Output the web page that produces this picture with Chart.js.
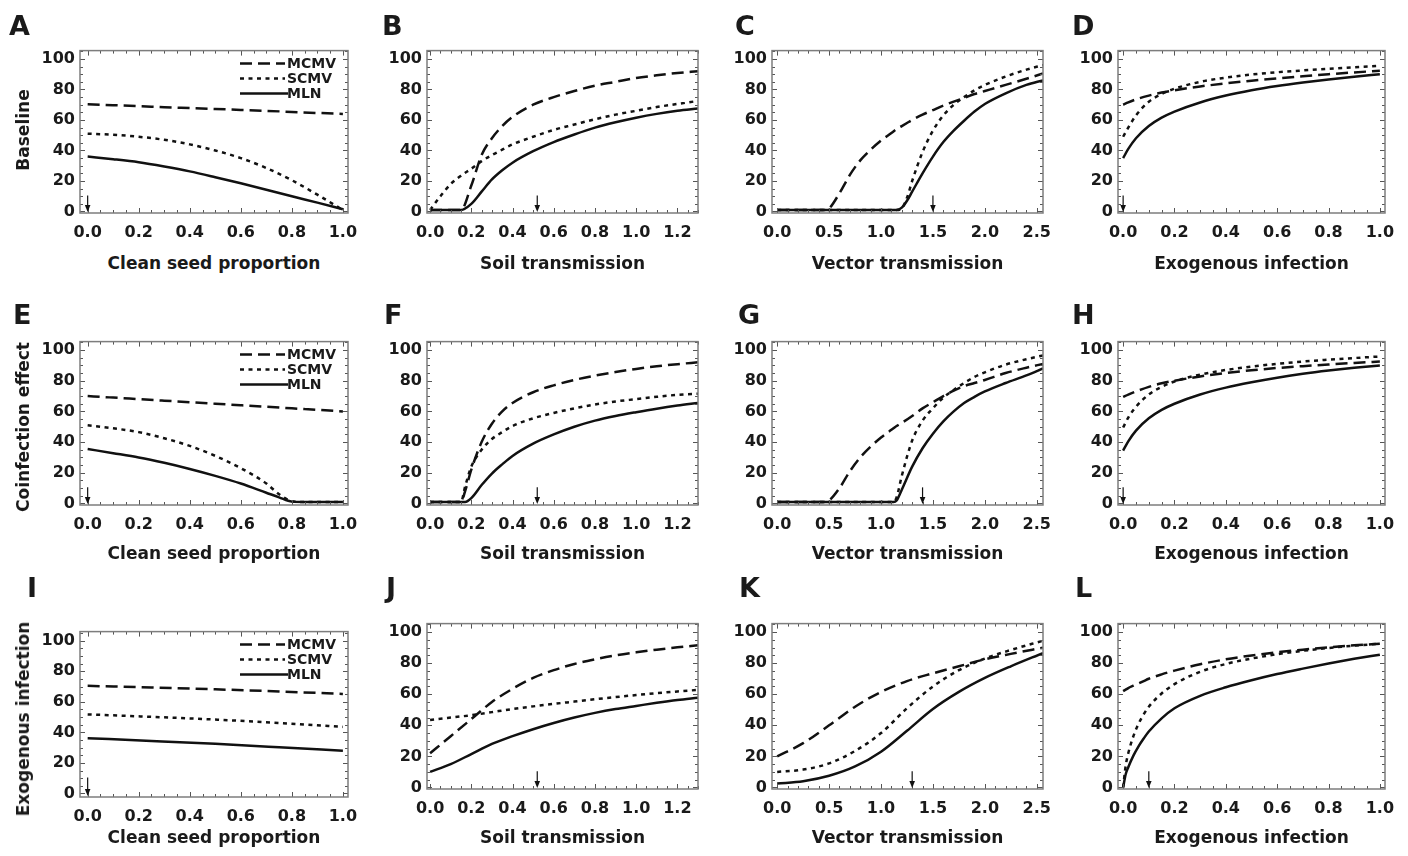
<!DOCTYPE html>
<html>
<head>
<meta charset="utf-8">
<script src="https://cdn.jsdelivr.net/npm/chart.js@4.4.1/dist/chart.umd.min.js"></script>
<style>
  body { margin: 0; background: #fff; }
  #page { position: relative; width: 1408px; height: 856px; overflow: hidden; font-family: "DejaVu Sans", sans-serif; font-weight: bold; color: #1a1a1a; }
  canvas { position: absolute; }
  .letter { position: absolute; font-size: 27px; line-height: 1; }
  .xtitle { position: absolute; font-size: 17px; text-align: center; white-space: nowrap; transform: translate(-50%, -50%); }
  .ytitle { position: absolute; font-size: 17px; white-space: nowrap; transform: translate(-50%, -50%) rotate(-90deg); }
</style>
</head>
<body>
<div id="page"></div>
<script>
// tick labels
const ticksUnit = [0, 0.2, 0.4, 0.6, 0.8, 1.0];
const ticksSoil = [0, 0.2, 0.4, 0.6, 0.8, 1.0, 1.2];
const ticksVector = [0, 0.5, 1.0, 1.5, 2.0, 2.5];
const ticksY = [0, 20, 40, 60, 80, 100];

const seriesNames = ['MCMV', 'SCMV', 'MLN'];

// A - baseline, clean seed
const xA = [0, 0.1, 0.2, 0.3, 0.4, 0.5, 0.6, 0.7, 0.8, 0.9, 1.0];
const mcmvA = [70.3, 69.7, 69.1, 68.4, 67.8, 67.2, 66.6, 66, 65.3, 64.6, 64];
const scmvA = [51, 50.3, 49, 47, 44, 40, 35, 28.5, 20.5, 11, 1];
const mlnA = [36, 34.3, 32.3, 29.5, 26.3, 22.5, 18.5, 14.3, 10, 5.8, 1.5];

// B - baseline, soil
const xB = [0, 0.05, 0.1, 0.15, 0.2, 0.25, 0.3, 0.35, 0.4, 0.5, 0.6, 0.7, 0.8, 0.9, 1.0, 1.1, 1.2, 1.3];
const mcmvB = [1, 1, 1, 1, 17, 37, 48, 56, 62, 70, 75, 79, 82.5, 85, 87.5, 89.3, 90.8, 92];
const scmvB = [1, 10, 18, 23.5, 28, 33, 37, 40.5, 44, 49, 53.5, 57, 60.5, 63.5, 66, 68.5, 70.5, 72.5];
const mlnB = [1, 1, 1, 1, 5, 13, 21, 27, 32, 39.5, 45.5, 50.5, 55, 58.5, 61.5, 64, 66, 67.5];

// C - baseline, vector
const xC = [0, 0.45, 0.5, 0.6, 0.7, 0.8, 0.9, 1.0, 1.1, 1.15, 1.2, 1.25, 1.3, 1.4, 1.5, 1.6, 1.7, 1.8, 1.9, 2.0, 2.2, 2.4, 2.56];
const mcmvC = [1, 1, 2, 12, 24, 33.5, 40.5, 46.5, 51.5, 54, 56, 58, 60, 63.5, 66.5, 69.5, 72, 74.5, 77, 79, 83, 87, 90.5];
const scmvC = [1, 1, 1, 1, 1, 1, 1, 1, 1, 1, 2, 9, 20, 39, 53, 63, 70, 75, 79.5, 83, 88.5, 93, 96];
const mlnC = [1, 1, 1, 1, 1, 1, 1, 1, 1, 1, 2.5, 7, 13, 25, 36, 45.5, 53, 59.5, 65.5, 70.5, 77.5, 83, 86];

// D - baseline, exogenous
const xD = [0, 0.02, 0.05, 0.1, 0.15, 0.2, 0.3, 0.4, 0.5, 0.6, 0.7, 0.8, 0.9, 1.0];
const mcmvD = [70, 71.5, 73.5, 76, 78, 79.5, 82, 84, 85.8, 87.3, 88.7, 90, 91.2, 92.3];
const scmvD = [49, 55, 63, 72, 77, 80.5, 85, 87.8, 89.8, 91.3, 92.5, 93.6, 94.6, 95.5];
const mlnD = [35, 41, 48, 56, 61.5, 65.5, 71.5, 76, 79.5, 82.3, 84.6, 86.6, 88.4, 90];

// E - coinfection, clean seed
const xE = [0, 0.1, 0.2, 0.3, 0.4, 0.5, 0.6, 0.7, 0.75, 0.8, 0.85, 0.9, 1.0];
const mcmvE = [70, 69, 68, 67, 66, 65, 64, 63, 62.5, 62, 61.5, 61, 60];
const scmvE = [51, 49, 46.5, 42.5, 37.5, 31, 23, 13, 6, 1.5, 1, 1, 1];
const mlnE = [35.5, 32.8, 30, 26.5, 22.5, 18, 13, 7, 4, 1.2, 1, 1, 1];

// F - coinfection, soil
const xF = [0, 0.1, 0.15, 0.17, 0.2, 0.25, 0.3, 0.35, 0.4, 0.5, 0.6, 0.7, 0.8, 0.9, 1.0, 1.1, 1.2, 1.3];
const mcmvF = [1, 1, 1, 8, 22, 40, 52, 60, 65.5, 72.5, 77, 80.5, 83.3, 85.7, 87.7, 89.4, 90.8, 92];
const scmvF = [1, 1, 1, 11, 24, 35, 42, 46.5, 50.5, 55.5, 59, 62, 64.5, 66.5, 68, 69.5, 70.8, 71.5];
const mlnF = [1, 1, 1, 1, 3.5, 12, 19.5, 25.5, 31, 39, 45, 50, 54, 57, 59.5, 61.8, 63.8, 65.5];

// G - coinfection, vector
const xG = [0, 0.45, 0.5, 0.6, 0.7, 0.8, 0.9, 1.0, 1.1, 1.12, 1.15, 1.2, 1.3, 1.4, 1.5, 1.6, 1.7, 1.8, 1.9, 2.0, 2.2, 2.4, 2.56];
const mcmvG = [1, 1, 2, 10, 21, 30, 37, 43, 48, 49, 50.5, 52.5, 57, 62, 66, 70, 73.5, 76.5, 78.5, 80.5, 85, 88.5, 91];
const scmvG = [1, 1, 1, 1, 1, 1, 1, 1, 1, 1, 4, 18, 41, 54, 62, 69, 74, 78.5, 82.5, 85.5, 90.5, 94, 96.5];
const mlnG = [1, 1, 1, 1, 1, 1, 1, 1, 1, 1, 2, 9, 24, 36, 45.5, 53.5, 60, 65.5, 69.5, 73, 78.5, 83.5, 88];

// H - coinfection, exogenous
const xH = [0, 0.02, 0.05, 0.1, 0.15, 0.2, 0.3, 0.4, 0.5, 0.6, 0.7, 0.8, 0.9, 1.0];
const mcmvH = [69.5, 71, 73, 76, 78.3, 80, 82.8, 85, 86.8, 88.3, 89.5, 90.6, 91.6, 92.5];
const scmvH = [49.5, 56, 63, 71, 76, 79.5, 84, 87, 89.2, 91, 92.5, 93.7, 94.8, 95.8];
const mlnH = [34.5, 40.5, 47.5, 55.5, 61, 65, 71, 75.5, 79, 82, 84.5, 86.6, 88.4, 90];

// I - exogenous infection, clean seed
const xI = [0, 0.25, 0.5, 0.75, 1.0];
const mcmvI = [70.5, 69.4, 68.2, 66.8, 65.2];
const scmvI = [51.8, 50.2, 48.4, 46.2, 43.6];
const mlnI = [36.2, 34.4, 32.5, 30.3, 28];

// J - exogenous infection, soil
const xJ = [0, 0.1, 0.2, 0.3, 0.4, 0.5, 0.6, 0.7, 0.8, 0.9, 1.0, 1.1, 1.2, 1.3];
const mcmvJ = [22, 33, 44, 55, 63.5, 70.5, 75.5, 79.5, 82.5, 85, 87, 88.7, 90.2, 91.5];
const scmvJ = [43.5, 45, 46.5, 48.5, 50.5, 52.2, 53.8, 55.3, 56.8, 58.2, 59.5, 60.7, 61.8, 62.8];
const mlnJ = [10, 15, 21.5, 28, 33, 37.5, 41.5, 45, 48, 50.5, 52.5, 54.5, 56.3, 57.8];

// K - exogenous infection, vector
const xK = [0, 0.25, 0.5, 0.75, 1.0, 1.25, 1.5, 1.75, 2.0, 2.25, 2.56];
const mcmvK = [20, 28.5, 40, 52, 61.5, 68.5, 73.5, 78, 82.5, 86, 90];
const scmvK = [10, 11.5, 15.5, 23.5, 35, 51, 65, 75.5, 83, 88.5, 94.5];
const mlnK = [2.5, 4, 7.5, 13.5, 23, 36.5, 50.5, 61.5, 70.5, 78, 86.5];

// L - exogenous infection, exogenous
const xL = [0, 0.01, 0.02, 0.04, 0.06, 0.08, 0.1, 0.15, 0.2, 0.3, 0.4, 0.5, 0.6, 0.7, 0.8, 0.9, 1.0];
const mcmvL = [62, 63, 64, 65.5, 67, 68.5, 70, 72.8, 75.2, 79.3, 82.5, 85, 87, 88.7, 90.2, 91.5, 92.5];
const scmvL = [0, 14, 22, 33, 41, 47, 52, 60.5, 66.5, 74.5, 79.5, 83, 85.8, 88, 89.8, 91.3, 92.5];
const mlnL = [0, 8.5, 13, 20.5, 26.5, 31.5, 36, 44.5, 51, 59, 64.5, 69, 73, 76.5, 79.8, 82.8, 85.5];

// arrow positions (default parameter value) per panel
const arrowsX = { A: 0, B: 0.52, C: 1.5, D: 0, E: 0, F: 0.52, G: 1.4, H: 0, I: 0, J: 0.52, K: 1.3, L: 0.1 };

const rowTitles = ['Baseline', 'Coinfection effect', 'Exogenous infection'];
const xTitles = ['Clean seed proportion', 'Soil transmission', 'Vector transmission', 'Exogenous infection'];

// layout
const cols = [{ l: 80, r: 348 }, { l: 427, r: 698 }, { l: 772, r: 1043 }, { l: 1118, r: 1385 }];
const rows = [{ t: 48, b: 213 }, { t: 339, b: 505 }, { t: 621, b: 789 }];
const letterPos = [[9, 382, 735, 1072], [13, 384, 738, 1072], [27, 386, 739, 1075]];
const letterBase = [33, 322, 595];
const xTitleY = [263, 553, 837];
const rowTitleY = [130, 427, 719];

const colAxes = [
    { ticks: ticksUnit, min: -0.03, max: 1.02, minor: 0.05 },
    { ticks: ticksSoil, min: -0.015, max: 1.3, minor: 0.05 },
    { ticks: ticksVector, min: -0.05, max: 2.56, minor: 0.1 },
    { ticks: ticksUnit, min: -0.02, max: 1.02, minor: 0.05 }
];

const panels = [
    ['A', xA, mcmvA, scmvA, mlnA], ['B', xB, mcmvB, scmvB, mlnB], ['C', xC, mcmvC, scmvC, mlnC], ['D', xD, mcmvD, scmvD, mlnD],
    ['E', xE, mcmvE, scmvE, mlnE], ['F', xF, mcmvF, scmvF, mlnF], ['G', xG, mcmvG, scmvG, mlnG], ['H', xH, mcmvH, scmvH, mlnH],
    ['I', xI, mcmvI, scmvI, mlnI], ['J', xJ, mcmvJ, scmvJ, mlnJ], ['K', xK, mcmvK, scmvK, mlnK], ['L', xL, mcmvL, scmvL, mlnL]
];

const dashes = [[12, 6], [4, 4.5], []];
const FONT = '"DejaVu Sans", sans-serif';
const PAD_L = 60, PAD_T = 12, PAD_R = 24, PAD_B = 40;

// frame, frame ticks, arrow and in-plot legend
const framePlugin = {
    id: 'frame',
    afterDatasetsDraw(chart, args, opts) {
        const { ctx, chartArea: a, scales } = chart;
        const xs = scales.x, ys = scales.y;
        ctx.save();

        // tick marks on all four sides
        ctx.strokeStyle = '#555';
        ctx.lineWidth = 1;
        const tickX = (v, len) => {
            const px = Math.round(xs.getPixelForValue(v)) + 0.5;
            ctx.beginPath();
            ctx.moveTo(px, a.bottom); ctx.lineTo(px, a.bottom - len);
            ctx.moveTo(px, a.top); ctx.lineTo(px, a.top + len);
            ctx.stroke();
        };
        const tickY = (v, len) => {
            const py = Math.round(ys.getPixelForValue(v)) + 0.5;
            ctx.beginPath();
            ctx.moveTo(a.left, py); ctx.lineTo(a.left + len, py);
            ctx.moveTo(a.right, py); ctx.lineTo(a.right - len, py);
            ctx.stroke();
        };
        for (let i = 0; i * opts.xMinor <= xs.max + 1e-9; i++) {
            const v = +(i * opts.xMinor).toFixed(4);
            const major = opts.xTicks.some(t => Math.abs(t - v) < 1e-6);
            tickX(v, major ? 5 : 3);
        }
        for (let v = 0; v <= ys.max; v += 5) tickY(v, v % 20 === 0 ? 5 : 3);

        // frame
        ctx.strokeStyle = '#7d7d7d';
        ctx.lineWidth = 1.5;
        ctx.strokeRect(a.left, a.top, a.right - a.left, a.bottom - a.top);

        // arrow marking the default value
        const ax = xs.getPixelForValue(opts.arrow);
        const ay0 = ys.getPixelForValue(10.5);
        const ay1 = a.bottom - 1;
        ctx.strokeStyle = '#111';
        ctx.fillStyle = '#111';
        ctx.lineWidth = 1.2;
        ctx.beginPath();
        ctx.moveTo(ax, ay0); ctx.lineTo(ax, ay1 - 5);
        ctx.stroke();
        ctx.beginPath();
        ctx.moveTo(ax - 2.8, ay1 - 7); ctx.lineTo(ax + 2.8, ay1 - 7); ctx.lineTo(ax, ay1);
        ctx.closePath();
        ctx.fill();

        // legend inside the plot
        if (opts.legend) {
            ctx.font = 'bold 14px ' + FONT;
            ctx.textBaseline = 'middle';
            ctx.fillStyle = '#1a1a1a';
            chart.data.datasets.forEach((ds, i) => {
                const y = a.top + 13 + i * 15;
                ctx.strokeStyle = '#111';
                ctx.lineWidth = 2.5;
                ctx.setLineDash(ds.borderDash);
                ctx.beginPath();
                ctx.moveTo(a.right - 108, y);
                ctx.lineTo(a.right - (ds.borderDash.length ? 63 : 60), y);
                ctx.stroke();
                ctx.setLineDash([]);
                ctx.fillText(ds.label, a.right - 61, y + 1);
            });
        }
        ctx.restore();
    }
};

const page = document.getElementById('page');

panels.forEach((p, idx) => {
    const [id, xs, mcmv, scmv, mln] = p;
    const r = Math.floor(idx / 4), c = idx % 4;
    const axis = colAxes[c];
    let box = { l: cols[c].l, r: cols[c].r, t: rows[r].t, b: rows[r].b };
    let yMin = -1, yMax = 105.5;
    if (id === 'I') { box.t = 629; box.b = 797; yMin = -2.3; yMax = 106; }

    const w = box.r - box.l + PAD_L + PAD_R;
    const h = box.b - box.t + PAD_T + PAD_B;
    const canvas = document.createElement('canvas');
    canvas.width = w; canvas.height = h;
    canvas.style.left = (box.l - PAD_L) + 'px';
    canvas.style.top = (box.t - PAD_T) + 'px';
    canvas.style.width = w + 'px';
    canvas.style.height = h + 'px';
    page.appendChild(canvas);

    const datasets = [mcmv, scmv, mln].map((ys, i) => ({
        label: seriesNames[i],
        data: xs.map((x, k) => ({ x: x, y: ys[k] })),
        borderColor: '#111',
        borderWidth: 2.5,
        borderDash: dashes[i],
        borderCapStyle: 'butt',
        pointRadius: 0,
        fill: false,
        cubicInterpolationMode: 'monotone'
    }));

    new Chart(canvas.getContext('2d'), {
        type: 'line',
        data: { datasets },
        plugins: [framePlugin],
        options: {
            responsive: false,
            animation: false,
            events: [],
            layout: { padding: { left: 0, top: PAD_T, right: PAD_R, bottom: 0 } },
            plugins: {
                legend: { display: false },
                tooltip: { enabled: false },
                frame: { xTicks: axis.ticks, xMinor: axis.minor, arrow: arrowsX[id], legend: c === 0 }
            },
            scales: {
                x: {
                    type: 'linear',
                    min: axis.min,
                    max: axis.max,
                    afterBuildTicks: s => { s.ticks = axis.ticks.map(v => ({ value: v })); },
                    afterFit: s => { s.height = PAD_B; },
                    grid: { display: false, drawTicks: false },
                    border: { display: false },
                    ticks: {
                        padding: 10,
                        maxRotation: 0,
                        autoSkip: false,
                        color: '#1a1a1a',
                        font: { family: FONT, size: 16, weight: 'bold' },
                        callback: v => Number(v).toFixed(1)
                    }
                },
                y: {
                    type: 'linear',
                    min: yMin,
                    max: yMax,
                    afterBuildTicks: s => { s.ticks = ticksY.map(v => ({ value: v })); },
                    afterFit: s => { s.width = PAD_L; },
                    grid: { display: false, drawTicks: false },
                    border: { display: false },
                    ticks: {
                        padding: 5,
                        autoSkip: false,
                        color: '#1a1a1a',
                        font: { family: FONT, size: 16, weight: 'bold' },
                        callback: v => String(v)
                    }
                }
            }
        }
    });

    // panel letter
    const letter = document.createElement('div');
    letter.className = 'letter';
    letter.textContent = id;
    letter.style.left = letterPos[r][c] + 'px';
    letter.style.top = (letterBase[r] - 21) + 'px';
    page.appendChild(letter);

    // x-axis title
    const xt = document.createElement('div');
    xt.className = 'xtitle';
    xt.textContent = xTitles[c];
    xt.style.left = ((box.l + box.r) / 2) + 'px';
    xt.style.top = xTitleY[r] + 'px';
    page.appendChild(xt);
});

// row titles
rowTitles.forEach((t, r) => {
    const el = document.createElement('div');
    el.className = 'ytitle';
    el.textContent = t;
    el.style.left = '23px';
    el.style.top = rowTitleY[r] + 'px';
    page.appendChild(el);
});
</script>
</body>
</html>
